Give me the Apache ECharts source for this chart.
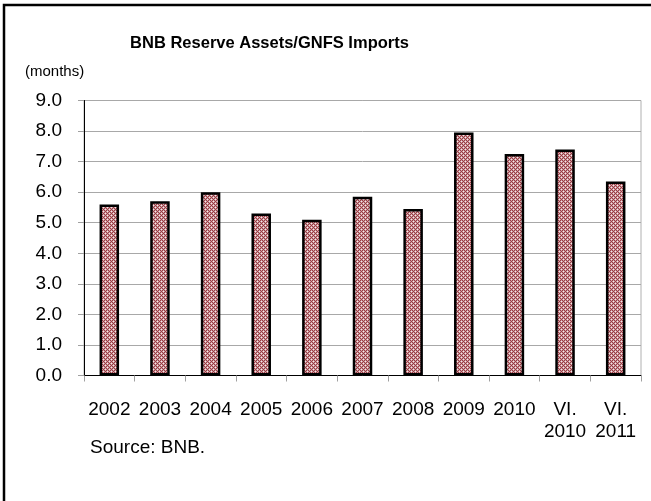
<!DOCTYPE html>
<html>
<head>
<meta charset="utf-8">
<script src="https://cdn.jsdelivr.net/npm/echarts@6/dist/echarts.min.js"></script>
<style>
html,body{margin:0;padding:0;background:#fff;}
#chart{width:651px;height:501px;}
</style>
</head>
<body>
<div id="chart"></div>
<script>
var categories = ['2002','2003','2004','2005','2006','2007','2008','2009','2010','VI.\n2010','VI.\n2011'];
var values = [5.6, 5.7, 6.0, 5.3, 5.1, 5.85, 5.45, 7.95, 7.25, 7.4, 6.35];
var yTicks = [0, 1, 2, 3, 4, 5, 6, 7, 8, 9];
var titleText = 'BNB Reserve Assets/GNFS Imports';
var unitText = '(months)';
var sourceText = 'Source: BNB.';

// checkered fill pattern
var pc = document.createElement('canvas');
pc.width = 4; pc.height = 4;
var ctx = pc.getContext('2d');
var D = '#983c44', L = '#cf9ca0', W = '#f4e8e8';
var tile = [
  [D, L, D, L],
  [L, W, L, D],
  [D, L, D, L],
  [L, D, L, W]
];
for (var r = 0; r < 4; r++) for (var c = 0; c < 4; c++) { ctx.fillStyle = tile[r][c]; ctx.fillRect(c, r, 1, 1); }

var chart = echarts.init(document.getElementById('chart'), null, {renderer: 'canvas'});
var font = 'Liberation Sans, Arial, sans-serif';
chart.setOption({
  animation: false,
  backgroundColor: '#fff',
  title: {
    text: titleText,
    left: 269.5,
    top: 33,
    padding: 0,
    textAlign: 'center',
    textStyle: {fontFamily: font, fontSize: 16.5, fontWeight: 'bold', color: '#000', lineHeight: 20}
  },
  grid: {left: 84, right: 10, top: 100.5, bottom: 125.5, show: true, borderColor: '#b0b0b0', borderWidth: 1, containLabel: false},
  xAxis: {
    type: 'category',
    data: categories,
    axisLine: {lineStyle: {color: '#000', width: 1}},
    axisTick: {show: true, length: 6, lineStyle: {color: '#a0a0a0'}},
    axisLabel: {margin: 23, fontFamily: font, fontSize: 19, color: '#000', lineHeight: 22.5, interval: 0}
  },
  yAxis: {
    type: 'value',
    min: yTicks[0],
    max: yTicks[yTicks.length - 1],
    interval: 1,
    axisLine: {show: true, lineStyle: {color: '#000', width: 1}},
    axisTick: {show: true, length: 6, lineStyle: {color: '#a0a0a0'}},
    splitLine: {show: true, lineStyle: {color: '#a8a8a8', width: 1}},
    axisLabel: {margin: 22, fontFamily: font, fontSize: 19, color: '#000', formatter: function (v) { return v.toFixed(1); }}
  },
  series: [{
    type: 'bar',
    data: values,
    barWidth: 19.5,
    itemStyle: {color: {image: pc, repeat: 'repeat'}, borderColor: '#000', borderWidth: 2.5}
  }],
  graphic: [
    {type: 'rect', shape: {x: 4, y: 5, width: 800, height: 800}, style: {fill: null, stroke: '#000', lineWidth: 2.5}, silent: true, z: 100},
    {type: 'text', x: 25, y: 72, style: {text: unitText, font: '15px ' + font, fill: '#000', textVerticalAlign: 'middle', verticalAlign: 'middle'}},
    {type: 'text', x: 90, y: 448, style: {text: sourceText, font: '19px ' + font, fill: '#000', textVerticalAlign: 'middle', verticalAlign: 'middle'}}
  ]
});
</script>
</body>
</html>
